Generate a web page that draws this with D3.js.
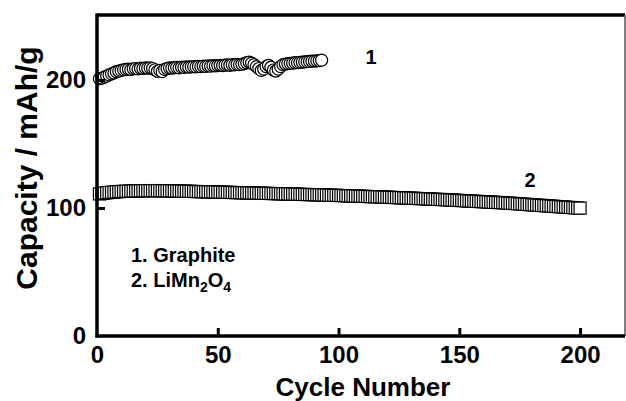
<!DOCTYPE html>
<html><head><meta charset="utf-8">
<script src="https://cdn.jsdelivr.net/npm/d3@7"></script>
<style>
html,body{margin:0;padding:0;background:#fff;}
svg{display:block;}
text{font-family:"Liberation Sans",Arial,sans-serif;font-weight:bold;fill:#000;}
</style></head>
<body><svg id="chart" width="626" height="401"></svg>
<script>
// ---- data ----
const graphiteStartCycle = 1;
const graphite = [
 201.0,201.5,202.3,203.0,204.0,204.8,205.5,206.5,207.0,207.5,
 208.0,208.3,208.5,208.2,208.8,209.0,208.7,209.2,209.0,209.4,
 209.2,209.5,209.0,208.0,206.8,207.5,206.5,208.3,209.0,209.5,
 209.3,209.6,209.8,209.5,210.0,209.8,210.2,210.0,210.3,210.5,
 210.3,210.6,210.5,210.8,210.6,211.0,210.8,211.2,211.0,211.3,
 211.5,211.3,211.6,211.8,211.5,212.0,211.8,212.2,212.0,212.3,
 212.8,213.5,214.0,213.2,212.0,210.5,209.0,207.5,208.5,210.5,
 211.5,210.0,207.8,207.0,208.5,210.5,212.0,212.5,212.8,213.0,
 213.2,213.5,213.6,213.8,214.0,214.2,214.3,214.5,214.7,214.8,
 215.0,215.2,215.5
];
const limnStartCycle = 1;
const limn2o4 = [
 111.0,111.3,111.6,111.9,112.1,112.3,112.5,112.6,112.8,112.9,
 113.0,113.1,113.1,113.2,113.3,113.3,113.4,113.4,113.5,113.5,
 113.5,113.6,113.6,113.5,113.6,113.5,113.5,113.4,113.5,113.4,
 113.4,113.3,113.3,113.2,113.2,113.1,113.1,113.0,113.0,112.9,
 112.9,112.8,112.8,112.7,112.7,112.6,112.6,112.5,112.5,112.4,
 112.4,112.3,112.3,112.2,112.2,112.1,112.1,112.0,112.0,111.9,
 111.9,111.8,111.8,111.7,111.7,111.6,111.6,111.5,111.5,111.4,
 111.4,111.3,111.3,111.2,111.2,111.1,111.1,111.0,111.0,110.9,
 110.9,110.8,110.8,110.7,110.6,110.6,110.5,110.5,110.4,110.4,
 110.3,110.3,110.2,110.2,110.1,110.0,110.0,109.9,109.9,109.8,
 109.7,109.7,109.6,109.5,109.5,109.4,109.3,109.3,109.2,109.1,
 109.1,109.0,108.9,108.9,108.8,108.7,108.7,108.6,108.5,108.4,
 108.4,108.3,108.2,108.1,108.1,108.0,107.9,107.8,107.7,107.7,
 107.6,107.5,107.4,107.3,107.3,107.2,107.1,107.0,106.9,106.8,
 106.7,106.7,106.6,106.5,106.4,106.3,106.2,106.1,106.0,105.9,
 105.8,105.7,105.6,105.5,105.4,105.3,105.2,105.1,105.0,104.9,
 104.8,104.7,104.6,104.5,104.4,104.3,104.2,104.1,104.0,103.8,
 103.7,103.6,103.5,103.3,103.2,103.1,102.9,102.8,102.7,102.5,
 102.4,102.3,102.1,102.0,101.9,101.7,101.6,101.5,101.3,101.2,
 101.1,100.9,100.8,100.7,100.5,100.4,100.3,100.1,100.0,99.9
];
const xTicks = [0,50,100,150,200];
const yTicks = [0,100,200];
const xDomain = [0,218.6];
const yDomain = [0,250];
const xTitle = "Cycle Number";
const yTitle = "Capacity / mAh/g";

// ---- drawing ----
const svg = d3.select("#chart");
const L=97, R=625, T=16, B=336;
const x = d3.scaleLinear().domain(xDomain).range([L,R]);
const y = d3.scaleLinear().domain(yDomain).range([B,T]);

// frame top & right
svg.append("line").attr("x1",L).attr("x2",R).attr("y1",T-1).attr("y2",T-1)
  .attr("stroke","#000").attr("stroke-width",3.5);
svg.append("line").attr("x1",R).attr("x2",R).attr("y1",T-1).attr("y2",B)
  .attr("stroke","#555").attr("stroke-width",1.5);

// series 2 squares
const sq = 12;
svg.append("g").selectAll("rect").data(limn2o4).join("rect")
  .attr("x",(d,i)=>x(i+limnStartCycle)-sq/2)
  .attr("y",d=>y(d)-sq/2)
  .attr("width",sq).attr("height",sq)
  .attr("fill","#fff").attr("stroke","#000").attr("stroke-width",1.2);

// series 1 circles
svg.append("g").selectAll("circle").data(graphite).join("circle")
  .attr("cx",(d,i)=>x(i+graphiteStartCycle))
  .attr("cy",d=>y(d))
  .attr("r",6)
  .attr("fill","#fff").attr("stroke","#000").attr("stroke-width",1.2);

// axes
const xAxis = d3.axisBottom(x).tickValues(xTicks).tickSizeInner(-8).tickSizeOuter(0).tickPadding(10);
const gx = svg.append("g").attr("transform",`translate(0,${B})`).call(xAxis);
const yAxis = d3.axisLeft(y).tickValues(yTicks).tickSizeInner(-8).tickSizeOuter(0).tickPadding(11);
const gy = svg.append("g").attr("transform",`translate(${L},0)`).call(yAxis);
[gx,gy].forEach(g=>{
  g.select(".domain").attr("stroke","#000").attr("stroke-width",3.5);
  g.selectAll(".tick line").attr("stroke","#000").attr("stroke-width",3);
  g.selectAll(".tick text").attr("fill","#000")
    .style("font-family",'"Liberation Sans",Arial,sans-serif')
    .style("font-weight","bold").style("font-size","24px");
});
gx.select(".domain").attr("d",`M${L-1.5},0H${R}`);
gy.select(".domain").attr("d",`M0,${T-2.5}V${B+1.5}`);
gx.selectAll(".tick").filter(d=>d===0).select("line").remove();
gy.selectAll(".tick").filter(d=>d===0).select("line").remove();

// axis titles
svg.append("text").attr("x",363).attr("y",396).attr("text-anchor","middle")
  .style("font-size","26px").text(xTitle);
svg.append("text").attr("transform","translate(37,168) rotate(-90)")
  .attr("text-anchor","middle").style("font-size","30px").text(yTitle);

// series labels
svg.append("text").attr("x",371).attr("y",64).attr("text-anchor","middle")
  .style("font-size","20px").text("1");
svg.append("text").attr("x",530).attr("y",187).attr("text-anchor","middle")
  .style("font-size","20px").text("2");

// legend
svg.append("text").attr("x",131).attr("y",262).style("font-size","20px").text("1. Graphite");
const t2 = svg.append("text").attr("x",131).attr("y",287).style("font-size","20px");
t2.append("tspan").text("2. LiMn");
t2.append("tspan").attr("dy",5).style("font-size","14px").text("2");
t2.append("tspan").attr("dy",-5).text("O");
t2.append("tspan").attr("dy",5).style("font-size","14px").text("4");
</script></body></html>
